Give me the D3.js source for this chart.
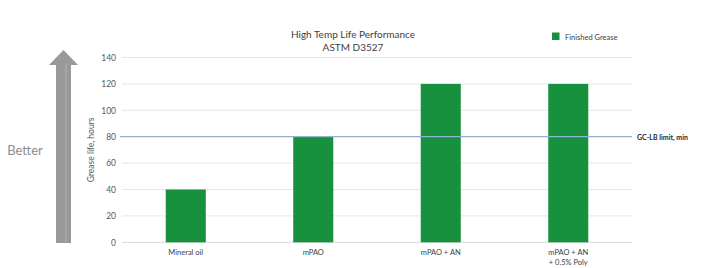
<!DOCTYPE html>
<html>
<head>
<meta charset="utf-8">
<script src="https://cdn.jsdelivr.net/npm/d3@7"></script>
<style>
    body { margin: 0; background: #fff; }
    text { font-family: Lato, "Open Sans", sans-serif; }
</style>
</head>
<body>
<svg id="chart_svg" width="707" height="268"></svg>
<script>
// data
const g_categories = [["Mineral oil"], ["mPAO"], ["mPAO + AN"], ["mPAO + AN", "+ 0.5% Poly"]];
const g_values = [40, 80, 120, 120];
const g_ticks = [0, 20, 40, 60, 80, 100, 120, 140];
const g_limit = 80;
const g_title = ["High Temp Life Performance", "ASTM D3527"];
const g_series = "Finished Grease";
const g_limit_label = "GC-LB limit, min";

const svg = d3.select("#chart_svg");
const x0 = 122, x1 = 632, y0 = 242.3, y1 = 57.5;

// scales
var x_scaler = d3.scaleBand().domain(d3.range(g_values.length)).range([x0, x1]).paddingInner(0.686).paddingOuter(0.343);
var y_scaler = d3.scaleLinear().domain([0, 140]).range([y0, y1]);

// gridlines
svg.append("g").selectAll("line").data(g_ticks).join("line")
    .attr("x1", x0).attr("x2", x1)
    .attr("y1", d => y_scaler(d)).attr("y2", d => y_scaler(d))
    .attr("stroke", d => d == 0 ? "#d9d9d9" : "#e6e6e6").attr("stroke-width", 1);

// y axis labels
var y_axis = svg.append("g").attr("transform", "translate(" + (x0 - 6) + ",0)")
    .call(d3.axisLeft(y_scaler).tickValues(g_ticks).tickSize(0).tickPadding(0));
y_axis.select(".domain").remove();
y_axis.selectAll("text").attr("font-family", "Lato, sans-serif").attr("font-size", 8.5).attr("fill", "#595959");

// y axis title
svg.append("text").attr("transform", "translate(94," + ((y0 + y1) / 2) + ") rotate(-90)")
    .attr("text-anchor", "middle").attr("font-size", 8.5).attr("fill", "#595959")
    .text("Grease life, hours");

// bars
svg.append("g").selectAll("rect").data(g_values).join("rect")
    .attr("x", (d, i) => x_scaler(i)).attr("width", x_scaler.bandwidth())
    .attr("y", d => y_scaler(d)).attr("height", d => y0 - y_scaler(d))
    .attr("fill", "#17913d");

// limit line and label
svg.append("line").attr("x1", 120).attr("x2", x1)
    .attr("y1", y_scaler(g_limit)).attr("y2", y_scaler(g_limit))
    .attr("stroke", "#8fb3cf").attr("stroke-width", 1.3);
svg.append("text").attr("x", 637).attr("y", y_scaler(g_limit) + 3)
    .attr("font-size", 7).attr("font-weight", "bold").attr("fill", "#262626")
    .text(g_limit_label);

// x labels
var x_lbl = svg.append("g").selectAll("text").data(g_categories).join("text")
    .attr("x", (d, i) => x_scaler(i) + x_scaler.bandwidth() / 2)
    .attr("y", 255).attr("text-anchor", "middle").attr("font-size", 7.5).attr("fill", "#404040");
x_lbl.selectAll("tspan").data(d => d).join("tspan")
    .attr("x", function () { return d3.select(this.parentNode).attr("x"); })
    .attr("dy", (d, i) => i == 0 ? 0 : 10)
    .text(d => d);

// title
svg.append("g").selectAll("text").data(g_title).join("text")
    .attr("x", 353).attr("y", (d, i) => 38 + i * 13)
    .attr("text-anchor", "middle").attr("font-size", 10).attr("fill", "#404040")
    .text(d => d);

// legend
svg.append("rect").attr("x", 552).attr("y", 32.5).attr("width", 7.5).attr("height", 7.5).attr("fill", "#17913d");
svg.append("text").attr("x", 565).attr("y", 39.5).attr("font-size", 7.5).attr("fill", "#404040").text(g_series);

// "Better" arrow
svg.append("path")
    .attr("d", "M56,243 L56,65 L49,65 L63.5,50 L78,65 L71,65 L71,243 Z")
    .attr("fill", "#999999");
svg.append("line").attr("x1", 66).attr("x2", 66).attr("y1", 64).attr("y2", 242)
    .attr("stroke", "#a6a6a6").attr("stroke-width", 2);
svg.append("text").attr("x", 25).attr("y", 155)
    .attr("text-anchor", "middle").attr("font-size", 13).attr("fill", "#8c8c8c")
    .text("Better");
</script>
</body>
</html>
